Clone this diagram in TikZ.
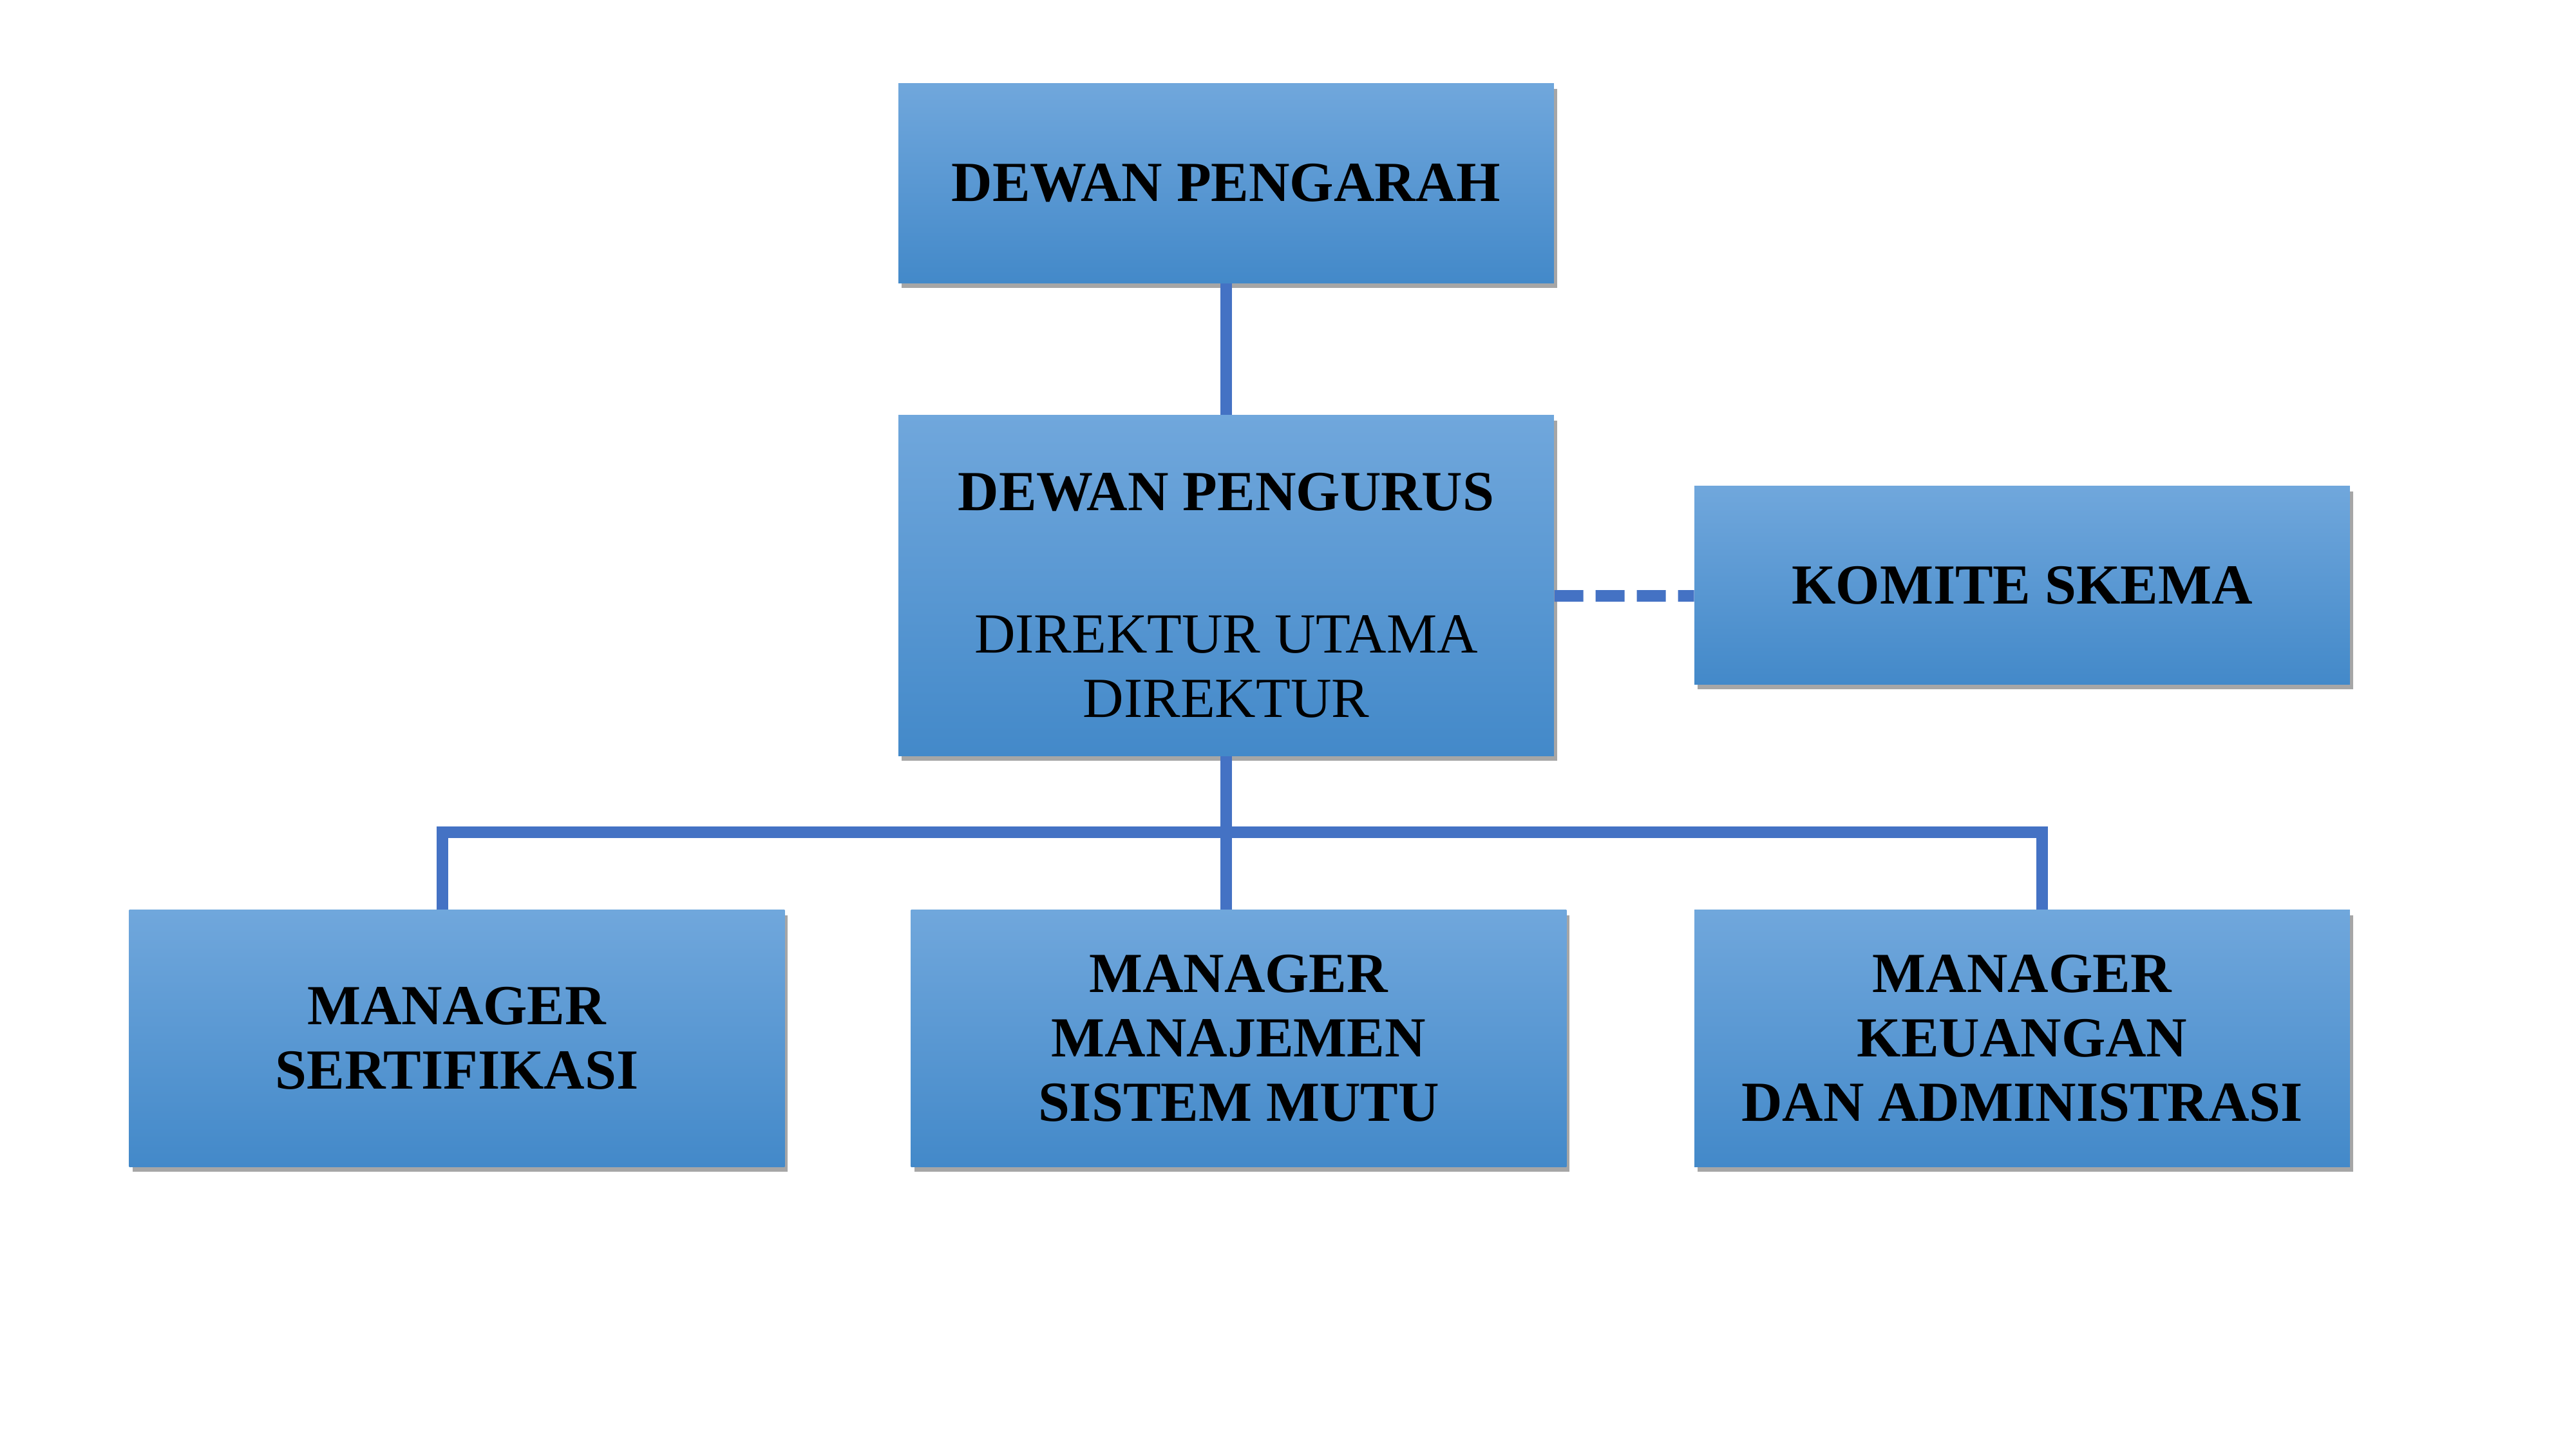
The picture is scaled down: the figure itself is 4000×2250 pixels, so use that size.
\documentclass[tikz,border=0pt]{standalone}
\usepackage{fontspec}
\setmainfont{Liberation Serif}
\usetikzlibrary{shadows}
\definecolor{boxtop}{RGB}{112,167,220}
\definecolor{boxbot}{RGB}{67,137,201}
\definecolor{linkc}{RGB}{68,114,196}
\begin{document}
\begin{tikzpicture}[x=0.01cm,y=-0.01cm,
  orgbox/.style={rectangle, draw=none, top color=boxtop, bottom color=boxbot,
    minimum width=10.17cm, inner sep=0pt, align=center,
    font=\fontsize{25}{28.5}\selectfont,
    drop shadow={shadow xshift=0.05cm, shadow yshift=-0.08cm, opacity=0.35, fill=black}},
  plain/.style={align=center, inner sep=0pt, font=\fontsize{25}{28.5}\selectfont},
  link/.style={draw=linkc, line width=0.18cm, line join=miter}]
\useasboundingbox (0,0) rectangle (4000,2250);
% boxes
\node[orgbox, minimum height=3.09cm] (P) at (1904,284.5) {\textbf{DEWAN PENGARAH}};
\node[orgbox, minimum height=5.28cm] (U) at (1904,909) {};
\node[plain] (Ut) at (1904,924.5) {\textbf{DEWAN PENGURUS}\\[1.2cm]DIREKTUR UTAMA\\DIREKTUR};
\node[orgbox, minimum height=3.07cm] (K) at (3140,908.5) {\textbf{KOMITE SKEMA}};
\node[orgbox, minimum height=3.98cm] (S) at (709.5,1612) {\textbf{MANAGER}\\\textbf{SERTIFIKASI}};
\node[orgbox, minimum height=3.98cm] (M) at (1923.5,1612) {\textbf{MANAGER}\\\textbf{MANAJEMEN}\\\textbf{SISTEM MUTU}};
\node[orgbox, minimum height=3.98cm] (F) at (3140,1612) {\textbf{MANAGER}\\\textbf{KEUANGAN}\\\textbf{DAN ADMINISTRASI}};
% bus coordinates
\coordinate (bl) at (687,1292);
\coordinate (br) at (3171,1292);
% connectors
\draw[link] (P.south) -- (U.north);
\draw[link] (U.south) -- (U.south |- M.north);
\draw[link] (S.north -| bl) -- (bl) -- (br) -- (F.north -| br);
\draw[link, dash pattern=on 0.45cm off 0.19cm] ([yshift=-0.16cm]U.east) -- ([yshift=-0.165cm]K.west);
\end{tikzpicture}
\end{document}
